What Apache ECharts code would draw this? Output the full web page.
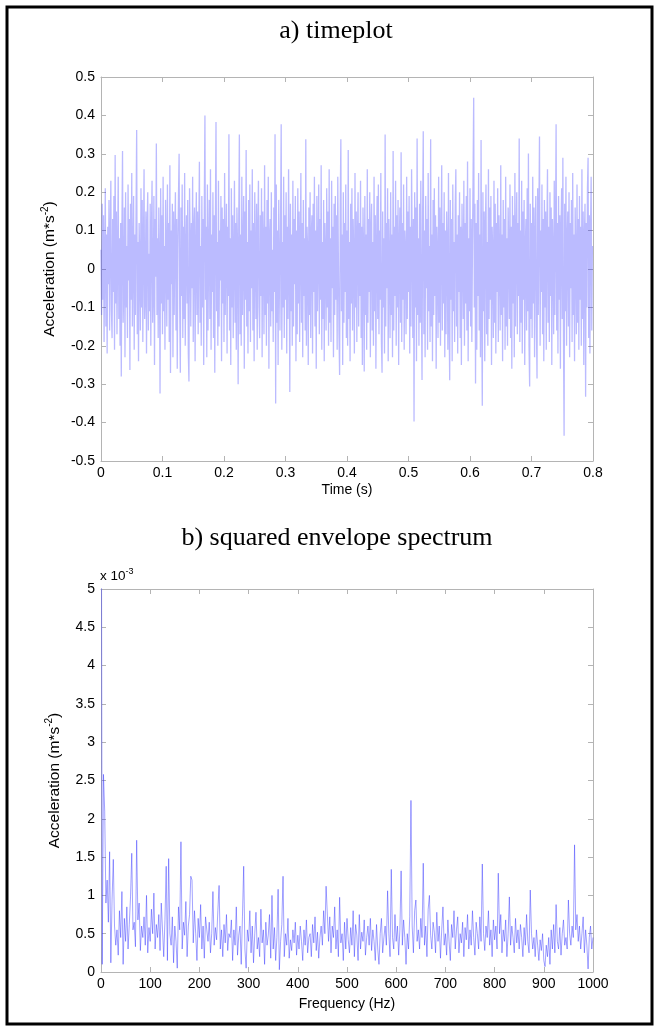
<!DOCTYPE html>
<html><head><meta charset="utf-8">
<script src="https://cdn.jsdelivr.net/npm/echarts@6/dist/echarts.min.js"></script>
<style>html,body{margin:0;padding:0;background:#fff}#c{width:658px;height:1029px}</style>
</head><body><div id="c"></div>
<script>
// ---- a) time signal: acceleration samples (m*s^-2), one every timeStep seconds
const timeStep = 0.001;
const accel = [
.05,-.12,.17,-.08,.14,-.19,.02,.21,-.15,.09,-.22,.11,-.04,.18,-.16,.07,.23,-.11,-.18,.13,
-.06,.19,-.21,.297,-.09,.15,-.17,.04,.24,-.13,.08,-.2,.12,-.28,.1,.307,-.14,-.05,.16,-.23,
.2,-.1,.06,-.18,.22,-.03,.13,-.263,.17,-.08,.25,-.15,.03,.19,-.21,.09,-.12,.14,.362,-.17,
.07,-.24,.12,.02,-.16,.21,-.1,.18,-.19,.05,.26,-.13,-.07,.15,-.22,.11,.2,-.16,.04,-.11,
.17,-.2,.09,.23,-.14,-.06,.19,-.25,.13,-.02,.327,-.12,.08,-.18,.16,.01,-.324,.21,-.09,.14,
-.17,.24,-.11,.06,-.21,.18,.03,-.15,.22,-.08,.12,-.19,.27,-.271,.1,-.04,.17,-.23,.15,-.12,
.08,.2,-.16,.13,-.26,.05,.19,.30,-.1,-.27,.16,-.07,.22,-.18,.11,-.13,.25,-.2,.04,.14,
-.09,.18,-.22,-.293,.21,.07,-.15,.12,-.05,.24,-.19,.1,.16,-.24,.03,.2,-.12,.15,-.17,.09,
.279,-.14,.06,-.2,.19,-.1,.13,-.25,.17,.40,-.08,.11,-.23,.22,-.16,.04,.18,-.13,.26,-.21,
.09,-.06,.2,-.18,.14,-.27,.12,.383,-.11,.07,-.2,.23,-.15,.1,-.03,.19,-.24,.16,-.09,.13,
-.19,.25,-.12,.05,.17,-.22,.11,-.07,.351,-.16,.08,-.25,.21,-.1,.14,-.18,.02,.23,-.14,.12,
-.21,.16,.06,-.30,.13,.35,-.17,.09,-.2,.24,-.12,.04,.19,-.26,.15,-.08,.31,-.15,.07,-.22,
.18,-.11,.22,-.19,.1,-.05,.26,-.16,.12,-.24,.2,.03,-.13,.17,-.21,.09,.23,-.1,-.18,.14,
-.07,.21,-.23,.15,.06,-.17,.27,-.12,.11,-.2,.18,-.09,.24,-.26,.08,.13,-.15,.2,-.11,.05,
-.19,.16,-.06,.351,-.35,.22,-.14,.1,-.25,.18,.02,-.16,.12,.377,-.21,.07,-.1,.24,-.18,.14,
-.08,.2,-.22,.11,-.13,.26,.04,-.32,.17,-.11,.09,-.2,.23,-.15,.13,-.04,.19,-.24,.1,-.17,
.21,-.09,.15,-.19,.06,.25,-.14,.12,-.23,.18,-.07,.08,-.16,.338,-.2,.11,.05,-.25,.16,-.12,
.2,-.18,.09,.14,-.22,.17,-.06,.24,-.15,.1,-.26,.19,-.11,.03,.22,-.17,.13,-.08,.27,-.21,
.07,-.13,.18,-.24,.12,.04,-.16,.21,-.1,.15,-.2,.26,-.14,.08,-.19,.23,-.05,.11,-.23,.17,
-.12,.19,-.08,.14,-.21,.24,.02,-.17,-.276,.16,.338,-.11,.09,-.25,.2,-.14,.12,-.06,.22,-.18,
.1,-.2,.31,-.13,.07,-.24,.17,-.09,.21,-.16,.13,.03,-.22,.25,-.1,.15,-.19,.08,.2,-.15,
.12,-.07,.23,-.18,.11,-.25,.16,.04,-.267,.19,-.12,.09,-.21,.26,-.14,.13,-.06,.2,-.23,.1,
.17,-.16,.07,-.2,.24,-.11,.14,-.26,.05,.19,-.13,.22,-.17,.1,-.08,.25,-.19,-.27,.15,-.1,
.08,-.22,.35,-.15,.12,-.05,.21,-.24,.13,.02,-.18,.2,-.12,.09,-.23,.307,-.16,.11,-.07,.23,
-.2,.14,-.1,.18,-.25,.06,.16,-.14,.304,-.19,.12,-.08,.22,-.21,.1,.04,-.17,.24,-.13,.15,
-.06,.19,-.22,.11,-.15,.26,.07,-.18,.13,-.397,.2,-.1,.16,-.24,.34,-.12,.08,-.2,.17,-.14,
.23,-.09,-.289,.15,.359,-.17,.1,-.23,.19,-.05,.13,-.21,.25,-.11,.06,-.19,.338,-.15,.09,-.24,
.18,-.12,.21,-.07,.14,-.26,.11,.03,-.18,.24,-.14,.16,-.2,.08,.27,-.16,.12,-.09,.2,-.23,
.1,-.17,.15,.05,-.21,.25,-.13,-.29,.18,-.08,.13,-.24,.22,-.11,.07,-.19,.16,.26,-.15,.09,
-.22,.14,-.06,.2,-.18,.11,-.25,.17,.04,-.13,.23,-.2,.12,-.09,.19,-.16,.28,-.24,.08,-.11,
.21,-.15,.13,-.19,.06,.24,.446,-.1,.17,-.298,.12,-.21,.18,-.07,.25,-.16,.09,-.23,.336,-.12,
-.356,.2,-.11,.15,-.24,.1,.22,-.17,.07,-.2,.26,-.13,.16,-.08,.19,-.25,.11,.04,-.18,.23,
-.14,.17,-.22,.12,-.06,.21,-.19,.14,.03,-.16,.27,-.12,.09,-.24,.18,-.1,.13,-.21,.24,-.15,
.08,-.2,.16,.05,-.13,.22,-.18,.11,-.26,.19,-.09,.14,-.23,.25,-.15,.07,.2,-.17,.12,-.07,
.34,-.19,.1,-.14,.23,-.22,.15,-.08,.18,-.25,.06,.13,-.16,.21,-.11,.301,-.2,-.306,.17,-.13,
.12,-.18,.24,-.09,.16,-.23,.08,.19,-.15,-.285,.21,-.12,.14,.345,-.2,.1,-.06,.22,-.17,.13,
-.24,.18,-.1,.15,-.21,.09,.26,-.14,.11,-.19,.2,-.07,.16,-.25,.13,.04,-.17,.23,-.12,.08,
.377,-.16,.12,-.22,.19,-.08,.14,-.26,.1,.21,-.13,.29,-.18,-.434,.17,-.11,.24,-.2,.07,.15,
-.15,.2,-.23,.12,-.05,.18,-.19,.25,-.12,.09,-.24,.16,.03,-.17,.22,-.14,.13,-.21,.19,-.08,
.11,-.2,.26,-.13,.15,-.25,.08,.17,-.333,.12,-.1,.21,.29,-.18,.14,-.22,.1,.24,-.16,.06
];
// ---- b) squared envelope spectrum, values in units of 1e-3, one every freqStep Hz
const freqStep = 2.5;
const envSpec = [
9,.1,2.58,2.1,.9,1.2,.65,1.57,.12,.95,1.47,.6,.35,.55,.22,.8,.45,1.05,.1,.7,
.4,.85,.3,.62,.98,1.55,.55,.65,.33,1.72,.68,.9,.28,.6,.45,.72,.35,1.0,.25,.58,
.4,.82,.5,1.03,.3,.62,.45,.75,.28,.9,.55,.2,.68,1.38,.15,1.48,.5,.35,.72,.12,
.6,.4,.05,.85,.55,1.7,.3,.65,.48,.92,.2,.6,.75,1.25,1.2,.38,.8,.5,.15,.7,
.45,.88,.3,.6,.18,.72,.55,.4,.65,.25,.5,1.05,.35,.58,.42,.8,1.13,.3,.55,.2,
.62,.38,.75,.28,.5,.45,.68,.15,.55,.35,.85,.22,.48,.6,.1,.72,1.38,.3,.05,.55,
.4,.8,.25,.6,.12,.5,.78,.3,.45,.2,.82,.38,.55,.1,.65,.35,.48,.75,.18,1.0,
.3,.58,.15,.45,1.08,.03,.4,.62,1.25,.2,.5,.35,.7,.18,.42,.28,.55,.38,.65,.22,
.48,.3,.6,.4,.15,.55,.35,.68,.25,.45,.5,.2,.62,.38,.72,.28,.52,.18,.45,.6,
.35,.8,.5,1.12,1.1,.4,.72,.25,.6,.45,.85,.3,.55,.2,.975,.38,.5,.15,.65,.3,
.7,.42,.25,.58,.35,.8,.2,.62,.48,.15,.75,.3,.52,.4,.68,.22,.45,.6,.35,.7,
.28,.55,.4,.15,.62,.3,.1,.5,.7,.25,.45,.6,.35,1.06,.5,.2,1.34,.45,.3,.75,
.4,.6,.22,.55,1.32,.35,.68,.45,.1,.5,.3,.72,2.24,.6,.25,.8,.94,.4,.55,.3,
.7,.45,1.42,.35,.6,.2,.82,1.0,.48,.3,.65,.52,.25,.78,.4,.6,.18,.55,.85,.35,
.5,.22,.68,.4,.15,.62,.45,.8,.3,.55,.72,.25,.5,.38,.65,.2,.58,.42,.75,.3,
.55,.35,.8,.45,.22,.65,.5,.3,.72,.4,1.41,.5,.28,.6,.45,.8,.35,.55,.2,.68,
.42,.6,.3,1.29,.5,.75,.25,.55,.4,.68,.2,.5,.98,.35,.6,.45,.25,.7,.38,.55,
.3,.62,.45,.2,.58,.35,.75,.4,.25,1.07,.5,.3,.45,.2,.55,.35,.15,.42,.28,.5,
.15,.07,.35,.2,.45,.1,.55,.3,.62,.25,.88,.4,.3,.58,.22,.5,.68,.35,.45,.3,
.94,.5,.35,.6,.45,1.66,.55,.75,.4,.6,.3,.5,.72,.25,.55,.35,.04,.45,.6,.3,
.45
];
// ---- axes
const timeAxis = {min: 0, max: 0.8, interval: 0.1};
const accelAxis = {min: -0.5, max: 0.5, interval: 0.1};
const freqAxis = {min: 0, max: 1000, interval: 100};
const specAxis = {min: 0, max: 5, interval: 0.5};
const titles = ['a) timeplot', 'b) squared envelope spectrum'];
const xNames = ['Time (s)', 'Frequency (Hz)'];
const yName = 'Acceleration (m*s{sup|-2})';
const specScale = 'x 10{sup|-3}';

const timeData = accel.map((v, i) => [+(i * timeStep).toFixed(4), v]);
const specData = envSpec.map((v, i) => [i * freqStep, v]);

const AX = '#b4b4b4';
const FONT = 'Liberation Sans, Arial, sans-serif';
const SERIF = 'Liberation Serif, Times New Roman, serif';
const lbl = {color: '#000', fontFamily: FONT, fontSize: 14};
function mainAxis(grid, rng, pos, extra) {
  return Object.assign({
    type: 'value', gridIndex: grid, position: pos, min: rng.min, max: rng.max, interval: rng.interval,
    axisLine: {show: true, onZero: false, lineStyle: {color: AX, width: 1}},
    axisTick: {show: true, inside: true, length: 5, lineStyle: {color: AX}},
    axisLabel: Object.assign({show: true, margin: pos === 'left' ? 6 : 5, formatter: v => String(v)}, lbl),
    splitLine: {show: false}
  }, extra || {});
}
function boxAxis(grid, rng, pos) {
  return {
    type: 'value', gridIndex: grid, position: pos, min: rng.min, max: rng.max, interval: rng.interval,
    axisLine: {show: true, onZero: false, lineStyle: {color: AX, width: 1}},
    axisTick: {show: true, inside: true, length: 5, lineStyle: {color: AX}},
    axisLabel: {show: false}, splitLine: {show: false}
  };
}
const fmt1 = v => String(Math.round(v * 10) / 10);
const yNameStyle = {
  color: '#000', fontFamily: FONT, fontSize: 15.5, lineHeight: 20,
  rich: {sup: {fontFamily: FONT, fontSize: 10, lineHeight: 10, verticalAlign: 'top', color: '#000'}}
};

const chart = echarts.init(document.getElementById('c'), null, {renderer: 'canvas'});
chart.setOption({
  animation: false,
  backgroundColor: '#fff',
  title: [
    {text: titles[0], left: 331, top: 13, textAlign: 'center',
     textStyle: {fontFamily: SERIF, fontSize: 26, fontWeight: 'normal', color: '#000'}},
    {text: titles[1], left: 332, top: 520, textAlign: 'center',
     textStyle: {fontFamily: SERIF, fontSize: 26, fontWeight: 'normal', color: '#000'}}
  ],
  grid: [
    {left: 101, top: 77, width: 492, height: 384, containLabel: false},
    {left: 101, top: 589, width: 492, height: 383, containLabel: false}
  ],
  xAxis: [
    mainAxis(0, timeAxis, 'bottom', {name: xNames[0], nameLocation: 'middle', nameGap: 22,
      nameTextStyle: lbl, axisLabel: Object.assign({margin: 5, formatter: fmt1}, lbl)}),
    boxAxis(0, timeAxis, 'top'),
    mainAxis(1, freqAxis, 'bottom', {name: xNames[1], nameLocation: 'middle', nameGap: 25, nameTextStyle: lbl}),
    boxAxis(1, freqAxis, 'top')
  ],
  yAxis: [
    mainAxis(0, accelAxis, 'left', {name: yName, nameLocation: 'middle', nameGap: 34, nameRotate: 90,
      nameTextStyle: yNameStyle, axisLabel: Object.assign({margin: 6, formatter: fmt1}, lbl)}),
    boxAxis(0, accelAxis, 'right'),
    mainAxis(1, specAxis, 'left', {name: yName, nameLocation: 'middle', nameGap: 31, nameRotate: 90,
      nameTextStyle: yNameStyle}),
    boxAxis(1, specAxis, 'right')
  ],
  series: [
    {type: 'line', xAxisIndex: 0, yAxisIndex: 0, data: timeData, showSymbol: false, symbol: 'none',
     clip: true, sampling: null, lineStyle: {color: 'rgba(50,50,255,0.33)', width: 1.3}},
    {type: 'line', xAxisIndex: 2, yAxisIndex: 2, data: specData, showSymbol: false, symbol: 'none',
     clip: true, lineStyle: {color: 'rgba(50,50,255,0.45)', width: 1}}
  ],
  graphic: [
    {type: 'text', left: 100, top: 567, style: {text: specScale, fontFamily: FONT, fontSize: 13.5, lineHeight: 18, fill: '#000',
      rich: {sup: {fontFamily: FONT, fontSize: 9, lineHeight: 9, verticalAlign: 'top', fill: '#000'}}}},
    {type: 'rect', shape: {x: 7, y: 7, width: 645, height: 1017}, style: {fill: 'none', stroke: '#000', lineWidth: 3}, z: 100}
  ]
});
</script></body></html>
